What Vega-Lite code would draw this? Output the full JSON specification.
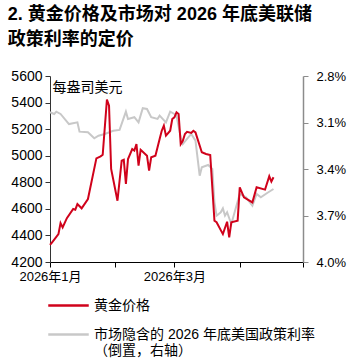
{
  "$schema": "https://vega.github.io/schema/vega-lite/v6.json",
  "width": 253,
  "height": 186,
  "padding": {"left": 7, "top": 6, "right": 5, "bottom": 0},
  "background": "white",
  "title": {
    "text": ["2. 黄金价格及市场对 2026 年底美联储", "政策利率的定价"],
    "anchor": "start",
    "frame": "bounds",
    "font": "Liberation Sans, Noto Sans CJK SC",
    "fontSize": 18,
    "fontWeight": "bold",
    "lineHeight": 25,
    "color": "#000000",
    "offset": 20,
    "dx": -3
  },
  "config": {
    "view": {"stroke": null},
    "font": "Liberation Sans, Noto Sans CJK SC",
    "axis": {
      "labelFont": "Liberation Sans, Noto Sans CJK SC",
      "labelColor": "#000000",
      "grid": false,
      "tickSize": 5
    },
    "legend": {
      "labelFont": "Liberation Sans, Noto Sans CJK SC"
    }
  },
  "datasets": {
    "gold": [
      {"date": "2026/01/01", "price": 4328},
      {"date": "2026/01/02", "price": 4348},
      {"date": "2026/01/05", "price": 4410},
      {"date": "2026/01/06", "price": 4493},
      {"date": "2026/01/07", "price": 4461},
      {"date": "2026/01/09", "price": 4530},
      {"date": "2026/01/12", "price": 4599},
      {"date": "2026/01/13", "price": 4594},
      {"date": "2026/01/14", "price": 4636},
      {"date": "2026/01/16", "price": 4604},
      {"date": "2026/01/19", "price": 4674},
      {"date": "2026/01/23", "price": 4980},
      {"date": "2026/01/25", "price": 4995},
      {"date": "2026/01/26", "price": 5007},
      {"date": "2026/01/28", "price": 5422},
      {"date": "2026/01/29", "price": 5377},
      {"date": "2026/01/30", "price": 4900},
      {"date": "2026/02/02", "price": 4661},
      {"date": "2026/02/04", "price": 4962},
      {"date": "2026/02/05", "price": 4970},
      {"date": "2026/02/06", "price": 4787},
      {"date": "2026/02/07", "price": 4975},
      {"date": "2026/02/09", "price": 5050},
      {"date": "2026/02/10", "price": 5038},
      {"date": "2026/02/11", "price": 5088},
      {"date": "2026/02/12", "price": 4925},
      {"date": "2026/02/13", "price": 5045},
      {"date": "2026/02/16", "price": 5000},
      {"date": "2026/02/17", "price": 4888},
      {"date": "2026/02/18", "price": 4988},
      {"date": "2026/02/20", "price": 5000},
      {"date": "2026/02/22", "price": 5126},
      {"date": "2026/02/23", "price": 5188},
      {"date": "2026/02/24", "price": 5226},
      {"date": "2026/02/25", "price": 5151},
      {"date": "2026/02/27", "price": 5188},
      {"date": "2026/02/28", "price": 5276},
      {"date": "2026/03/01", "price": 5289},
      {"date": "2026/03/02", "price": 5327},
      {"date": "2026/03/03", "price": 5314},
      {"date": "2026/03/04", "price": 5088},
      {"date": "2026/03/05", "price": 5113},
      {"date": "2026/03/06", "price": 5163},
      {"date": "2026/03/07", "price": 5180},
      {"date": "2026/03/09", "price": 5171},
      {"date": "2026/03/10", "price": 5188},
      {"date": "2026/03/11", "price": 5176},
      {"date": "2026/03/14", "price": 5026},
      {"date": "2026/03/16", "price": 5013},
      {"date": "2026/03/18", "price": 5005},
      {"date": "2026/03/20", "price": 4510},
      {"date": "2026/03/21", "price": 4499},
      {"date": "2026/03/24", "price": 4410},
      {"date": "2026/03/26", "price": 4503},
      {"date": "2026/03/27", "price": 4386},
      {"date": "2026/03/28", "price": 4499},
      {"date": "2026/03/31", "price": 4511},
      {"date": "2026/04/01", "price": 4762},
      {"date": "2026/04/03", "price": 4687},
      {"date": "2026/04/07", "price": 4649},
      {"date": "2026/04/09", "price": 4762},
      {"date": "2026/04/13", "price": 4745},
      {"date": "2026/04/15", "price": 4845},
      {"date": "2026/04/16", "price": 4805},
      {"date": "2026/04/17", "price": 4838}
    ],
    "rate": [
      {"date": "2026/01/01", "rate": 3.034},
      {"date": "2026/01/03", "rate": 3.045},
      {"date": "2026/01/04", "rate": 3.030},
      {"date": "2026/01/06", "rate": 3.045},
      {"date": "2026/01/10", "rate": 3.110},
      {"date": "2026/01/14", "rate": 3.099},
      {"date": "2026/01/15", "rate": 3.159},
      {"date": "2026/01/19", "rate": 3.163},
      {"date": "2026/01/22", "rate": 3.202},
      {"date": "2026/01/24", "rate": 3.185},
      {"date": "2026/01/27", "rate": 3.174},
      {"date": "2026/01/31", "rate": 3.153},
      {"date": "2026/02/03", "rate": 3.148},
      {"date": "2026/02/06", "rate": 3.030},
      {"date": "2026/02/07", "rate": 3.077},
      {"date": "2026/02/10", "rate": 3.066},
      {"date": "2026/02/12", "rate": 3.099},
      {"date": "2026/02/14", "rate": 3.008},
      {"date": "2026/02/16", "rate": 3.013},
      {"date": "2026/02/18", "rate": 3.066},
      {"date": "2026/02/21", "rate": 3.077},
      {"date": "2026/02/22", "rate": 3.056},
      {"date": "2026/02/25", "rate": 3.099},
      {"date": "2026/02/27", "rate": 3.030},
      {"date": "2026/03/01", "rate": 3.045},
      {"date": "2026/03/02", "rate": 3.056},
      {"date": "2026/03/04", "rate": 3.195},
      {"date": "2026/03/05", "rate": 3.239},
      {"date": "2026/03/07", "rate": 3.206},
      {"date": "2026/03/09", "rate": 3.174},
      {"date": "2026/03/11", "rate": 3.217},
      {"date": "2026/03/13", "rate": 3.443},
      {"date": "2026/03/14", "rate": 3.389},
      {"date": "2026/03/17", "rate": 3.374},
      {"date": "2026/03/19", "rate": 3.400},
      {"date": "2026/03/20", "rate": 3.615},
      {"date": "2026/03/21", "rate": 3.701},
      {"date": "2026/03/23", "rate": 3.679},
      {"date": "2026/03/24", "rate": 3.654},
      {"date": "2026/03/25", "rate": 3.701},
      {"date": "2026/03/26", "rate": 3.679},
      {"date": "2026/03/28", "rate": 3.755},
      {"date": "2026/03/30", "rate": 3.658},
      {"date": "2026/04/01", "rate": 3.561},
      {"date": "2026/04/04", "rate": 3.583},
      {"date": "2026/04/07", "rate": 3.637},
      {"date": "2026/04/09", "rate": 3.561},
      {"date": "2026/04/11", "rate": 3.583},
      {"date": "2026/04/14", "rate": 3.555},
      {"date": "2026/04/17", "rate": 3.529}
    ]
  },
  "encoding": {
    "x": {
      "field": "date",
      "type": "temporal",
      "scale": {"domain": [{"year": 2026, "month": 1, "date": 1}, {"year": 2026, "month": 5, "date": 1}]},
      "axis": {
        "title": null,
        "values": [
          {"year": 2026, "month": 1, "date": 1},
          {"year": 2026, "month": 2, "date": 1},
          {"year": 2026, "month": 3, "date": 1},
          {"year": 2026, "month": 4, "date": 1},
          {"year": 2026, "month": 5, "date": 1}
        ],
        "labelExpr": "month(datum.value) == 0 ? '2026年1月' : (month(datum.value) == 2 ? '2026年3月' : '')",
        "labelFlush": false,
        "labelFontSize": 13,
        "labelPadding": 3,
        "domainColor": "#000000",
        "tickColor": "#000000"
      }
    }
  },
  "layer": [
    {
      "data": {"name": "rate"},
      "mark": {"type": "line", "strokeWidth": 2, "interpolate": "linear"},
      "encoding": {
        "y": {
          "field": "rate",
          "type": "quantitative",
          "scale": {"domain": [2.8, 4.0], "reverse": true, "zero": false, "nice": false},
          "axis": {
            "orient": "right",
            "title": null,
            "values": [2.8, 3.1, 3.4, 3.7, 4.0],
            "labelExpr": "format(datum.value, '.1f') + '%'",
            "labelFontSize": 13,
            "labelPadding": 8,
            "domainColor": "#8c8c8c",
            "tickColor": "#8c8c8c",
            "domainWidth": 1.5
          }
        },
        "color": {"datum": "市场隐含的 2026 年底美国政策利率（倒置，右轴）"}
      }
    },
    {
      "data": {"name": "gold"},
      "mark": {"type": "line", "strokeWidth": 2, "interpolate": "linear"},
      "encoding": {
        "y": {
          "field": "price",
          "type": "quantitative",
          "scale": {"domain": [4200, 5600], "zero": false, "nice": false},
          "axis": {
            "orient": "left",
            "title": "每盎司美元",
            "titleAngle": 0,
            "titleAlign": "left",
            "titleBaseline": "middle",
            "titleX": 2,
            "titleY": 11,
            "titleFontSize": 14,
            "titleFontWeight": "normal",
            "titleColor": "#000000",
            "titleFont": "Liberation Sans, Noto Sans CJK SC",
            "values": [4200, 4400, 4600, 4800, 5000, 5200, 5400, 5600],
            "format": "d",
            "labelFontSize": 14,
            "labelPadding": 3,
            "domainColor": "#333333",
            "tickColor": "#333333"
          }
        },
        "color": {
          "datum": "黄金价格",
          "scale": {
            "domain": ["黄金价格", "市场隐含的 2026 年底美国政策利率（倒置，右轴）"],
            "range": ["#D0021B", "#C8C8C8"]
          },
          "legend": {
            "title": null,
            "orient": "none",
            "legendX": -3,
            "legendY": 208,
            "direction": "vertical",
            "symbolType": "stroke",
            "symbolSize": 1640,
            "symbolStrokeWidth": 2.5,
            "labelFontSize": 14,
            "labelColor": "#000000",
            "labelOffset": 4,
            "rowPadding": 0,
            "labelLimit": 400,
            "labelExpr": "datum.label == '黄金价格' ? datum.label : ['市场隐含的 2026 年底美国政策利率', '（倒置，右轴）']"
          }
        }
      }
    }
  ],
  "resolve": {"scale": {"y": "independent"}}
}
